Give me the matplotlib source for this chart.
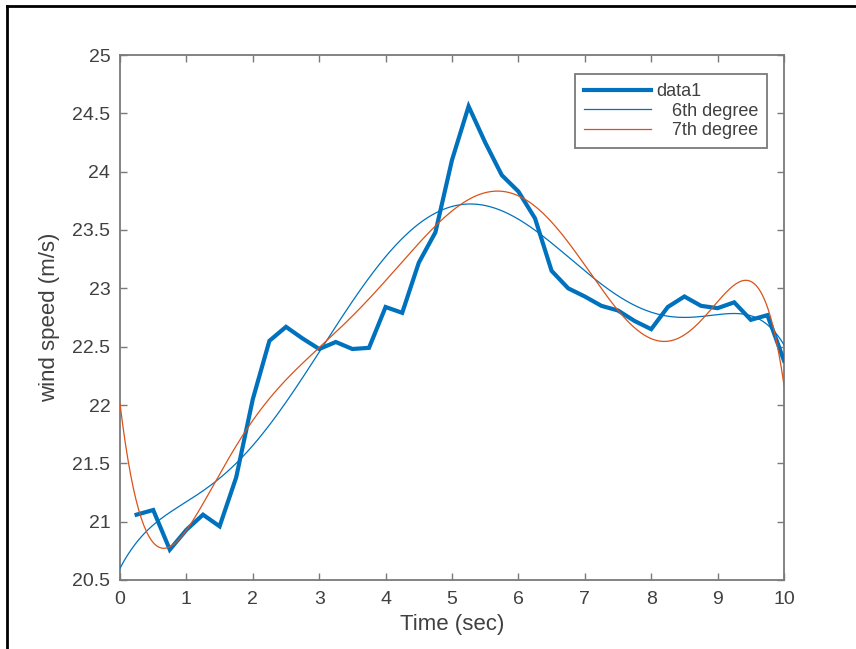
import numpy as np
import matplotlib
matplotlib.use("Agg")
import matplotlib.pyplot as plt
from matplotlib.lines import Line2D

plt.rcParams['font.family'] = ['Liberation Sans', 'DejaVu Sans']

# Measured wind speed samples
time_s = [0.25, 0.5, 0.75, 1.0, 1.25, 1.5, 1.75, 2.0, 2.25, 2.5,
          2.75, 3.0, 3.25, 3.5, 3.75, 4.0, 4.25, 4.5, 4.75, 5.0,
          5.25, 5.5, 5.75, 6.0, 6.25, 6.5, 6.75, 7.0, 7.25, 7.5,
          7.75, 8.0, 8.25, 8.5, 8.75, 9.0, 9.25, 9.5, 9.75, 10.0]
wind_speed = [21.06, 21.10, 20.76, 20.93, 21.06, 20.96, 21.38, 22.05, 22.55, 22.67,
              22.57, 22.48, 22.54, 22.48, 22.49, 22.84, 22.79, 23.22, 23.48, 24.10,
              24.56, 24.25, 23.97, 23.83, 23.60, 23.15, 23.00, 22.93, 22.85, 22.81,
              22.72, 22.65, 22.84, 22.93, 22.85, 22.83, 22.88, 22.73, 22.77, 22.38]

x_ticks = [0, 1, 2, 3, 4, 5, 6, 7, 8, 9, 10]
y_ticks = [20.5, 21, 21.5, 22, 22.5, 23, 23.5, 24, 24.5, 25]
y_tick_labels = ['20.5', '21', '21.5', '22', '22.5', '23', '23.5', '24', '24.5', '25']
series_labels = ['data1', '   6th degree', '   7th degree']

BLUE = '#0072BD'
ORANGE = '#D95319'
AXIS_GRAY = '#7a7a7a'
TEXT_GRAY = '#404040'

t = np.asarray(time_s)
v = np.asarray(wind_speed)
t_fine = np.linspace(0, 10, 500)
fit6 = np.polyval(np.polyfit(t, v, 6), t_fine)
fit7 = np.polyval(np.polyfit(t, v, 7), t_fine)

W, H = 856, 649
fig = plt.figure(figsize=(W / 100, H / 100), dpi=100)
ax_left, ax_right, ax_top, ax_bottom = 120, 784, 55, 580
ax = fig.add_axes([ax_left / W, 1 - ax_bottom / H,
                   (ax_right - ax_left) / W, (ax_bottom - ax_top) / H])

ax.plot(t, v, color=BLUE, lw=3.0, solid_joinstyle='miter', zorder=3)
ax.plot(t_fine, fit6, color=BLUE, lw=0.9, zorder=4)
ax.plot(t_fine, fit7, color=ORANGE, lw=0.9, zorder=4)

ax.set_xlim(0, 10)
ax.set_ylim(20.5, 25)
ax.set_xticks(x_ticks)
ax.set_xticklabels([str(x) for x in x_ticks])
ax.set_yticks(y_ticks)
ax.set_yticklabels(y_tick_labels)
ax.tick_params(direction='in', length=5, width=1, colors=AXIS_GRAY,
               labelcolor=TEXT_GRAY, labelsize=14, top=True, right=True)
ax.tick_params(axis='x', pad=8)
ax.tick_params(axis='y', pad=7)
for s in ax.spines.values():
    s.set_color(AXIS_GRAY)
    s.set_linewidth(1.3)

ax.set_xlabel('Time (sec)', fontsize=16, color=TEXT_GRAY, labelpad=4)
ax.set_ylabel('wind speed (m/s)', fontsize=16, color=TEXT_GRAY, labelpad=9)

handles = [Line2D([], [], color=BLUE, lw=3.0),
           Line2D([], [], color=BLUE, lw=0.9),
           Line2D([], [], color=ORANGE, lw=0.9)]
leg = ax.legend(handles, series_labels, loc='upper right',
                bbox_to_anchor=((767 - ax_left) / (ax_right - ax_left),
                                (ax_bottom - 74) / (ax_bottom - ax_top)),
                fontsize=13, frameon=True, fancybox=False, framealpha=1,
                borderpad=0.5, handlelength=3.7, handletextpad=0.3,
                labelspacing=0.15, borderaxespad=0)
leg.get_frame().set_edgecolor(AXIS_GRAY)
leg.get_frame().set_linewidth(1.3)
for txt in leg.get_texts():
    txt.set_color(TEXT_GRAY)

# Outer frame along the left and top edges
fig.add_artist(Line2D([7 / W, 7 / W], [0, 1 - 6 / H], color='black', lw=2,
                      transform=fig.transFigure))
fig.add_artist(Line2D([7 / W, 1], [1 - 6 / H, 1 - 6 / H], color='black', lw=2,
                      transform=fig.transFigure))

fig.savefig('out.png', dpi=100)
